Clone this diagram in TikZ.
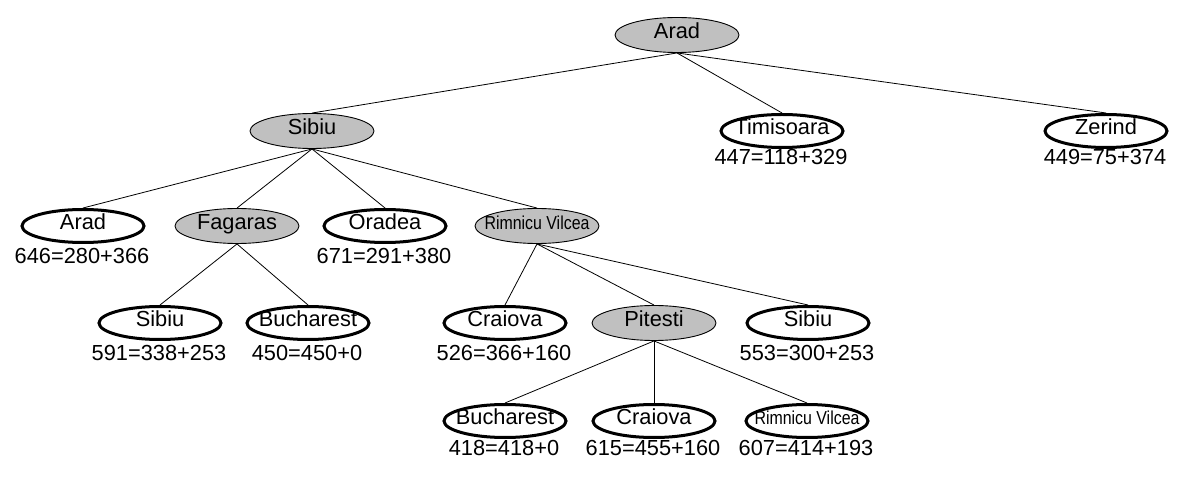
\documentclass[tikz,border=0pt]{standalone}
\usepackage{fontspec}
\newfontfamily\arialish{Liberation Sans}
\newcommand\cityfont{\arialish\fontsize{21.8}{26}\selectfont}
\newcommand\ctext[1]{\makebox[0pt]{#1}}
\newcommand\rvtext{\makebox[0pt]{\scalebox{0.73}[0.86]{Rimnicu Vilcea}}}
\usetikzlibrary{shapes.geometric}
\definecolor{nodegray}{RGB}{192,192,192}
\tikzset{
  city/.style={ellipse, inner sep=0pt, text height=11pt, text depth=4pt, font=\cityfont},
  expanded/.style={city, draw, line width=0.9pt, fill=nodegray, minimum width=124pt, minimum height=35pt},
  leaf/.style={city, draw, line width=3pt, minimum width=122pt, minimum height=33pt},
  val/.style={anchor=base, font=\cityfont, inner sep=0pt},
  edge/.style={line width=0.8pt}
}
\begin{document}
\begin{tikzpicture}[x=1pt,y=-1pt]
\useasboundingbox (0,0) rectangle (1184,486);
% level 0
\node[expanded] (A0) at (677,35) {\ctext{Arad}};
% level 1
\node[expanded] (S1) at (312,131) {\ctext{Sibiu}};
\node[leaf] (T1) at (782,131) {\ctext{Timisoara}};
\node[val] (T1v) at (781,165) {447=118+329};
\node[leaf] (Z1) at (1106,131) {\ctext{Zerind}};
\node[val] (Z1v) at (1105,165) {449=75+374};
% level 2
\node[leaf] (A2) at (83,226) {\ctext{Arad}};
\node[val] (A2v) at (82,264) {646=280+366};
\node[expanded] (F2) at (237,226) {\ctext{Fagaras}};
\node[leaf] (O2) at (385,226) {\ctext{Oradea}};
\node[val] (O2v) at (384,264) {671=291+380};
\node[expanded] (R2) at (537,226) {\rvtext};
% level 3
\node[leaf] (S3) at (160,323) {\ctext{Sibiu}};
\node[val] (S3v) at (159,361) {591=338+253};
\node[leaf] (B3) at (308,323) {\ctext{Bucharest}};
\node[val] (B3v) at (307,361) {450=450+0};
\node[leaf] (C3) at (505,323) {\ctext{Craiova}};
\node[val] (C3v) at (504,361) {526=366+160};
\node[expanded] (P3) at (654,323) {\ctext{Pitesti}};
\node[leaf] (S3b) at (808,323) {\ctext{Sibiu}};
\node[val] (S3bv) at (807,361) {553=300+253};
% level 4
\node[leaf] (B4) at (505,421) {\ctext{Bucharest}};
\node[val] (B4v) at (504,455) {418=418+0};
\node[leaf] (C4) at (654,421) {\ctext{Craiova}};
\node[val] (C4v) at (653,455) {615=455+160};
\node[leaf] (R4) at (807,421) {\rvtext};
\node[val] (R4v) at (806,455) {607=414+193};
% edges
\foreach \p/\c in {A0/S1, A0/T1, A0/Z1, S1/A2, S1/F2, S1/O2, S1/R2, F2/S3, F2/B3, R2/C3, R2/P3, R2/S3b, P3/B4, P3/C4, P3/R4}
  \draw[edge] (\p.south) -- (\c.north);
\end{tikzpicture}
\end{document}
